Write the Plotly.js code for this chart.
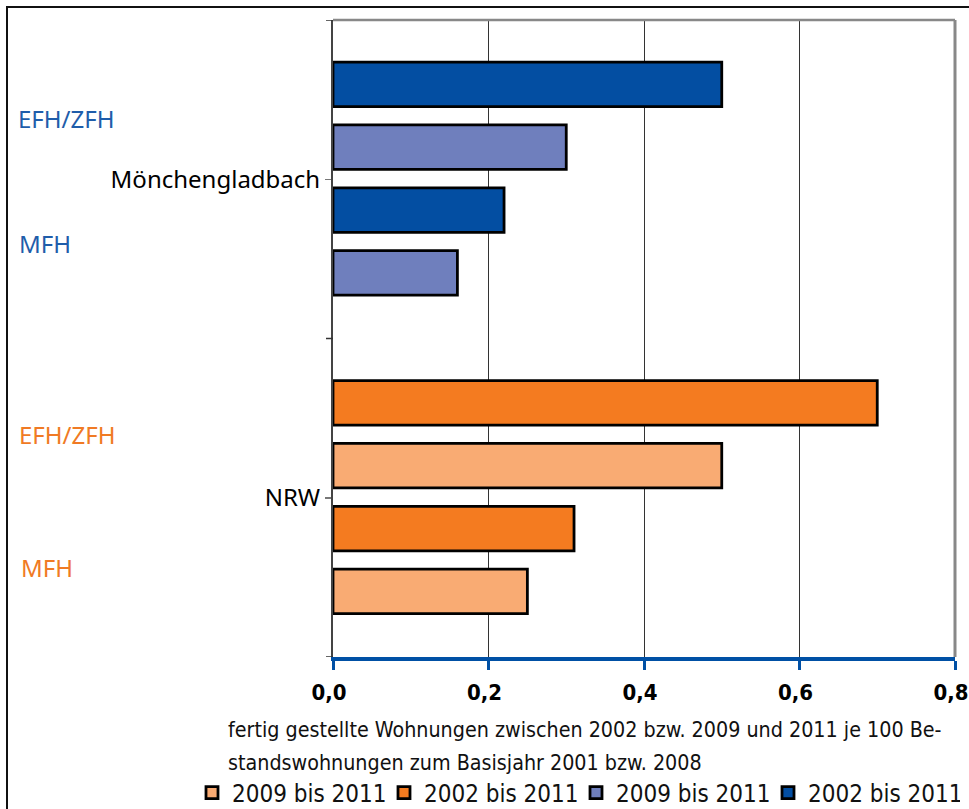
<!DOCTYPE html>
<html>
<head>
<meta charset="utf-8">
<script src="https://cdn.plot.ly/plotly-3.0.1.min.js"></script>
<style>
  html, body { margin: 0; padding: 0; background: #fff; }
  #chart { width: 969px; height: 809px; }
</style>
</head>
<body>
<div id="chart"></div>
<script>
// ---- data ----
const regions = ["Mönchengladbach", "NRW"];
const buildingTypes = ["EFH/ZFH", "MFH"];
const seriesNames = ["2009 bis 2011", "2002 bis 2011", "2009 bis 2011", "2002 bis 2011"];
// values per building type [EFH/ZFH, MFH]
const nrw2009 = [0.50, 0.25];
const nrw2002 = [0.70, 0.31];
const mg2009 = [0.30, 0.16];
const mg2002 = [0.50, 0.22];
const xTicks = [0, 0.2, 0.4, 0.6, 0.8];
const xTitleLines = [
  "fertig gestellte Wohnungen zwischen 2002 bzw. 2009 und 2011 je 100 Be-",
  "standswohnungen zum Basisjahr 2001 bzw. 2008"
];

// ---- styles ----
const C = {
  darkBlue: "#034EA2", lightBlue: "#6F7FBD",
  darkOrange: "#F47B20", lightOrange: "#F9AB73",
  labelBlue: "#1F5DAA", labelOrange: "#F07A24"
};
const barW = 0.14;
const offDarkEFH = -0.368, offLightEFH = -0.171, offDarkMFH = 0.027, offLightMFH = 0.224;
const condensed = "DejaVu Sans Condensed, Liberation Sans Narrow, sans-serif";
const regular = "Noto Sans, Open Sans, sans-serif";

function mk(name, region, vals, color, offs) {
  return {
    type: "bar", orientation: "h", name: name,
    y: [region, region], x: vals,
    offset: offs, width: [barW, barW],
    marker: { color: color, line: { color: "#000", width: 2.8 } },
    hoverinfo: "x+y"
  };
}

const traces = [
  mk(seriesNames[0], regions[1], nrw2009, C.lightOrange, [offLightEFH, offLightMFH]),
  mk(seriesNames[1], regions[1], nrw2002, C.darkOrange, [offDarkEFH, offDarkMFH]),
  mk(seriesNames[2], regions[0], mg2009, C.lightBlue, [offLightEFH, offLightMFH]),
  mk(seriesNames[3], regions[0], mg2002, C.darkBlue, [offDarkEFH, offDarkMFH])
];

const L = 333, R = 14, T = 20, B = 152, W = 969, H = 809;
const pw = W - L - R, ph = H - T - B;
const px = v => (v - L) / pw;
const py = v => (H - B - v) / ph;

const annotations = [
  { text: buildingTypes[0], x: px(16), y: py(118), color: C.labelBlue },
  { text: buildingTypes[1], x: px(17), y: py(244), color: C.labelBlue },
  { text: buildingTypes[0], x: px(17), y: py(434), color: C.labelOrange },
  { text: buildingTypes[1], x: px(19), y: py(567), color: C.labelOrange }
].map(a => ({
  text: a.text, xref: "paper", yref: "paper", x: a.x, y: a.y,
  xanchor: "left", yanchor: "middle", showarrow: false,
  font: { family: regular, size: 24, color: a.color }
}));
xTitleLines.forEach((t, i) => annotations.push({
  text: t, xref: "paper", yref: "paper", x: px(226), y: py(729 + i * 33),
  xanchor: "left", yanchor: "middle", showarrow: false,
  font: { family: condensed, size: 21.3, color: "#111" }
}));

const shapes = [
  { type: "rect", xref: "paper", yref: "paper", x0: px(7), x1: px(990), y0: py(830), y1: py(7),
    line: { color: "#111", width: 2 }, fillcolor: "rgba(0,0,0,0)", layer: "below" },
  { type: "line", xref: "paper", yref: "paper", x0: 0, x1: 1, y0: 1, y1: 1, line: { color: "#888", width: 2.5 } },
  { type: "line", xref: "paper", yref: "paper", x0: 1, x1: 1, y0: 0, y1: 1, line: { color: "#888", width: 3 } },
  ...[-0.5, 0.5, 1.5].map(v => ({ type: "line", xref: "paper", yref: "y", x0: -7 / pw, x1: 0, y0: v, y1: v,
    line: { color: "#333", width: 1.5 } }))
];

const layout = {
  width: W, height: H,
  margin: { l: L, r: R, t: T, b: B, pad: 0, autoexpand: false },
  paper_bgcolor: "#fff", plot_bgcolor: "#fff",
  separators: ",.",
  barmode: "overlay",
  showlegend: true,
  legend: {
    orientation: "h", x: px(192), y: py(793), xanchor: "left", yanchor: "middle",
    font: { family: condensed, size: 24, color: "#111" },
    traceorder: "normal", itemwidth: 30, tracegroupgap: 0,
    entrywidth: 147, entrywidthmode: "pixels", bgcolor: "rgba(0,0,0,0)"
  },
  xaxis: {
    range: [0, 0.8], tickvals: xTicks, tickformat: ".1f",
    showgrid: true, gridcolor: "#333", gridwidth: 1, zeroline: false,
    showline: true, linecolor: "#0050A5", linewidth: 4,
    ticks: "outside", ticklen: 9, tickwidth: 3, tickcolor: "#0050A5",
    ticklabelstandoff: 4, ticklabelshift: -4, ticklabeloverflow: "allow",
    tickfont: { family: condensed, size: 22, color: "#000", weight: "bold" }
  },
  yaxis: {
    type: "category", categoryorder: "array", categoryarray: regions,
    range: [1.5, -0.5], showgrid: false, zeroline: false,
    showline: true, linecolor: "#444", linewidth: 2,
    ticks: "outside", ticklen: 6, tickwidth: 1.5, tickcolor: "#777",
    tickfont: { family: regular, size: 24, color: "#000" }
  },
  annotations: annotations,
  shapes: shapes
};

Plotly.newPlot("chart", traces, layout, { displayModeBar: false, staticPlot: true });
</script>
</body>
</html>
